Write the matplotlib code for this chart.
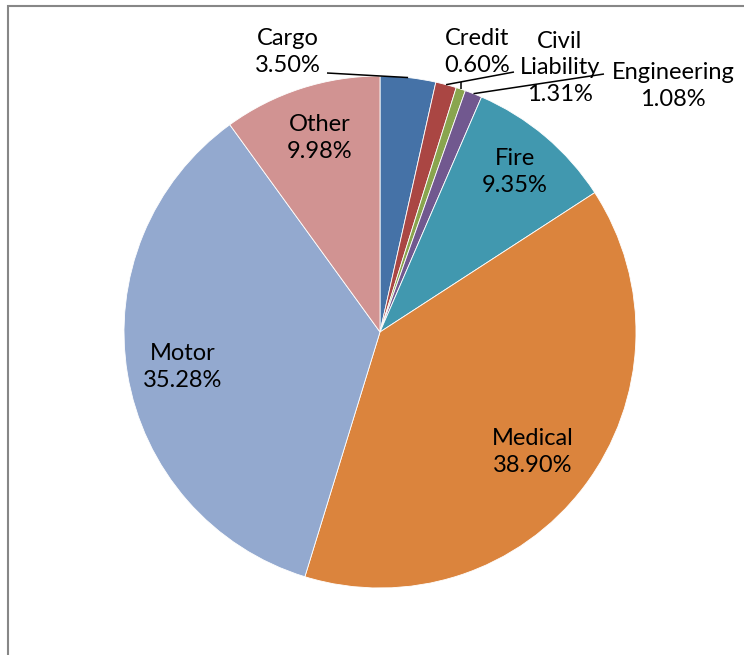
import numpy as np
import matplotlib
matplotlib.use("Agg")
import matplotlib.pyplot as plt
from matplotlib.patches import Rectangle

# --- data ---
categories = ["Cargo", "Civil\nLiability", "Credit", "Engineering", "Fire",
              "Medical", "Motor", "Other"]
shares = [3.50, 1.31, 0.60, 1.08, 9.35, 38.90, 35.28, 9.98]
colors = ["#4572A7", "#AA4643", "#89A54E", "#71588F", "#4198AF",
          "#DB843D", "#93A9CF", "#D19392"]

# label centres in pixel space (top-left origin)
label_pos = {
    "Cargo": (288, 52),
    "Civil\nLiability": (560, 68),
    "Credit": (477, 52),
    "Engineering": (673, 86),
    "Fire": (515, 172),
    "Medical": (533, 452),
    "Motor": (183, 367),
    "Other": (320, 138),
}

W, H = 744, 655
cx, cy, R = 380, H - 332, 256

fig = plt.figure(figsize=(W / 100, H / 100), dpi=100)
ax = fig.add_axes([0, 0, 1, 1])

wedges, _ = ax.pie(shares, colors=colors, startangle=90, counterclock=False,
                   center=(cx, cy), radius=R,
                   wedgeprops=dict(edgecolor="white", linewidth=0.6))
ax.set_xlim(0, W)
ax.set_ylim(0, H)
ax.set_aspect("equal")
ax.axis("off")

font = dict(family=["Lato", "DejaVu Sans"], fontsize=17, color="black")
for name, val in zip(categories, shares):
    x, y = label_pos[name]
    ax.text(x, H - y, f"{name}\n{val:.2f}%", ha="center", va="center",
            linespacing=1.3, **font)

# mid angles of each slice, for leader lines
cum = np.cumsum([0] + shares)
mid = {c: 90 - (cum[i] + shares[i] / 2) * 3.6 for i, c in enumerate(categories)}


def edge(name):
    a = np.deg2rad(mid[name])
    return cx + R * np.cos(a), cy + R * np.sin(a)


# leader lines: slice edge -> label side (pixel coords, top origin)
leaders = {
    "Cargo": (327, 73),
    "Civil\nLiability": (514, 72),
    "Credit": (461, 82),
    "Engineering": (604, 74),
}
for name, (lx, ly) in leaders.items():
    ex, ey = edge(name)
    if name == "Credit":
        ex = lx
    ax.plot([ex, lx], [ey, H - ly], color="black", lw=1.1, solid_capstyle="butt")

# chart frame
fig.patches.append(Rectangle((8 / W, -0.05), 1.1, (H - 6) / H + 0.05,
                             transform=fig.transFigure, fill=False,
                             edgecolor="#878787", lw=1.5))

fig.savefig("out.png", dpi=100, facecolor="white")
